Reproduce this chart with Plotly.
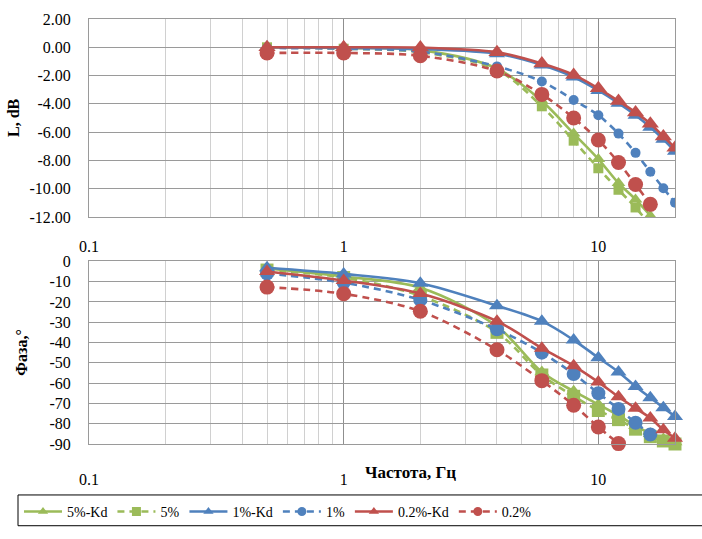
import math
import plotly.graph_objects as go

# ---------------- data ----------------
freq = [0.5, 1, 2, 4, 6, 8, 10, 12, 14, 16, 18, 20]

# Amplitude L, dB (top panel)
L_5kd = [0, -0.05, -0.2, -1.5, -3.8, -6.1, -7.9, -9.6, -10.75, -11.9, None, None]
L_5 = [0, -0.1, -0.35, -1.6, -4.17, -6.6, -8.55, -10.07, -11.32, -12.6, None, None]
L_1kd = [0, -0.03, -0.12, -0.45, -1.25, -2.1, -3.05, -3.95, -4.8, -5.65, -6.5, -7.35]
L_1 = [-0.05, -0.1, -0.3, -1.35, -2.42, -3.72, -4.8, -6.1, -7.46, -8.8, -9.96, -10.98]
L_02kd = [0, 0, -0.02, -0.35, -1.15, -1.95, -2.9, -3.8, -4.6, -5.4, -6.3, -7.1]
L_02 = [-0.4, -0.4, -0.6, -1.68, -3.33, -5.0, -6.55, -8.14, -9.7, -11.1, None, None]

# Phase, degrees (bottom panel)
P_5kd = [-3.5, -7.5, -13, -32, -54.5, -64, -70.5, -76, -81, -85, -87.5, -89]
P_5 = [-4.3, -8, -17, -35, -56, -66.5, -73.5, -78, -82.7, -86.4, -88.5, -90]
P_1kd = [-3.2, -6.2, -10.8, -21.9, -29.5, -38.8, -47.5, -54.5, -61.7, -67.2, -72.1, -76.4]
P_1 = [-6, -10.5, -19, -33.5, -45, -55.5, -65, -72.7, -79.5, -85.3, None, None]
P_02kd = [-5, -9.5, -15.9, -29.5, -42.8, -51.5, -59.5, -66.7, -72.4, -77.2, -83, -87.2]
P_02 = [-12.7, -16, -24.6, -43.6, -58.8, -70.9, -81.6, -89.8, None, None, None, None]

names = ["5%-Kd", "5%", "1%-Kd", "1%", "0.2%-Kd", "0.2%"]
L_series = [L_5kd, L_5, L_1kd, L_1, L_02kd, L_02]
P_series = [P_5kd, P_5, P_1kd, P_1, P_02kd, P_02]

x_tick_vals = [0.1, 1, 10]
x_tick_text = ["0.1", "1", "10"]
x_minor_vals = [0.2, 0.3, 0.4, 0.5, 0.6, 0.7, 0.8, 0.9, 2, 3, 4, 5, 6, 7, 8, 9]
L_ticks = [2, 0, -2, -4, -6, -8, -10, -12]
P_ticks = [0, -10, -20, -30, -40, -50, -60, -70, -80, -90]

# ---------------- styles ----------------
GREEN = "#9BBB59"
BLUE = "#4F81BD"
RED = "#C0504D"
styles = [
    dict(color=GREEN, dash="solid", symbol="triangle-up", top=12, bot=13),
    dict(color=GREEN, dash="7px,5px", symbol="square", top=10, bot=13),
    dict(color=BLUE, dash="solid", symbol="triangle-up", top=14, bot=14),
    dict(color=BLUE, dash="7px,5px", symbol="circle", top=10, bot=14),
    dict(color=RED, dash="solid", symbol="triangle-up", top=15, bot=14),
    dict(color=RED, dash="7px,5px", symbol="circle", top=15, bot=15),
]

FONT = "Liberation Serif"

fig = go.Figure()
# legend-only entries (small legend symbols like the reference)
for name, st in zip(names, styles):
    fig.add_trace(go.Scatter(
        x=[None], y=[None], name=name, legendgroup=name, showlegend=True,
        mode="lines+markers", line=dict(color=st["color"], width=2.6, dash=st["dash"]),
        marker=dict(symbol=st["symbol"], size=9, color=st["color"]),
        xaxis="x", yaxis="y",
    ))
for name, ys, st in zip(names, L_series, styles):
    fig.add_trace(go.Scatter(
        x=freq, y=ys, name=name, legendgroup=name, showlegend=False,
        mode="lines+markers", line=dict(color=st["color"], width=2.6, dash=st["dash"], shape="spline", smoothing=0.9),
        marker=dict(symbol=st["symbol"], size=st["top"], color=st["color"]),
        xaxis="x", yaxis="y", cliponaxis=True,
    ))
for name, ys, st in zip(names, P_series, styles):
    fig.add_trace(go.Scatter(
        x=freq, y=ys, name=name, legendgroup=name, showlegend=False,
        mode="lines+markers", line=dict(color=st["color"], width=2.6, dash=st["dash"], shape="spline", smoothing=0.9),
        marker=dict(symbol=st["symbol"], size=st["bot"], color=st["color"]),
        xaxis="x2", yaxis="y2", cliponaxis=False,
    ))

W, H = 702, 539
ML, MR, MT, MB = 89, 27, 11, 86
PW, PH = W - ML - MR, H - MT - MB


def px_x(px):
    return (px - ML) / PW


def px_y(py):
    return (H - MB - py) / PH


top_dom = [px_y(217), 1.0]
bot_dom = [0.0, px_y(263)]

tickfont = dict(family=FONT, size=16, color="black")
xcommon = dict(
    type="log", range=[-1, math.log10(20)], tickmode="array",
    tickvals=x_tick_vals, ticktext=x_tick_text,
    showgrid=True, gridcolor="#8f8f8f", gridwidth=1,
    minor=dict(tickmode="array", tickvals=x_minor_vals, showgrid=True, gridcolor="#d0d0d0", gridwidth=1.3, ticks=""),
    showline=True, mirror=True, linecolor="#9a9a9a", linewidth=1,
    ticks="", zeroline=False, tickfont=tickfont,
)
ycommon = dict(
    showgrid=True, gridcolor="#9a9a9a", gridwidth=1,
    showline=True, mirror=True, linecolor="#9a9a9a", linewidth=1,
    ticks="", zeroline=False, tickfont=tickfont, tickmode="array",
    ticklabelstandoff=14,
)

fig.update_layout(
    width=W, height=H,
    margin=dict(l=ML, r=MR, t=MT, b=MB),
    paper_bgcolor="white", plot_bgcolor="white",
    font=dict(family=FONT, color="black"),
    xaxis=dict(xcommon, domain=[0, 1], anchor="y", ticklabelstandoff=15),
    xaxis2=dict(xcommon, domain=[0, 1], anchor="y2", ticklabelstandoff=21),
    yaxis=dict(ycommon, domain=top_dom, anchor="x", range=[-12, 2],
               tickvals=L_ticks, ticktext=[f"{v:.2f}" for v in L_ticks]),
    yaxis2=dict(ycommon, domain=bot_dom, anchor="x2", range=[-90, 0],
                tickvals=P_ticks, ticktext=[str(v) for v in P_ticks]),
    showlegend=True,
    legend=dict(orientation="h", x=px_x(19), y=px_y(507), xanchor="left", yanchor="top",
                font=dict(family=FONT, size=14, color="black"), bgcolor="rgba(0,0,0,0)",
                borderwidth=0, itemwidth=38, traceorder="normal"),
    annotations=[
        dict(text="<b>L, dB</b>", x=px_x(13), y=(top_dom[0] + top_dom[1]) / 2, xref="paper", yref="paper",
             textangle=-90, showarrow=False, xanchor="center", yanchor="middle",
             font=dict(family=FONT, size=16, color="black")),
        dict(text="<b>Фаза,°</b>", x=px_x(22), y=(bot_dom[0] + bot_dom[1]) / 2, xref="paper", yref="paper",
             textangle=-90, showarrow=False, xanchor="center", yanchor="middle",
             font=dict(family=FONT, size=16, color="black")),
        dict(text="<b>Частота, Гц</b>", x=px_x(410), y=px_y(483), xref="paper", yref="paper",
             showarrow=False, xanchor="center", yanchor="middle",
             font=dict(family=FONT, size=17, color="black")),
    ],
    shapes=[
        dict(type="rect", xref="paper", yref="paper", x0=px_x(18), x1=px_x(706), y0=px_y(538), y1=px_y(506),
             line=dict(color="black", width=1), fillcolor="rgba(0,0,0,0)"),
    ],
)

fig.write_html("out.html")
